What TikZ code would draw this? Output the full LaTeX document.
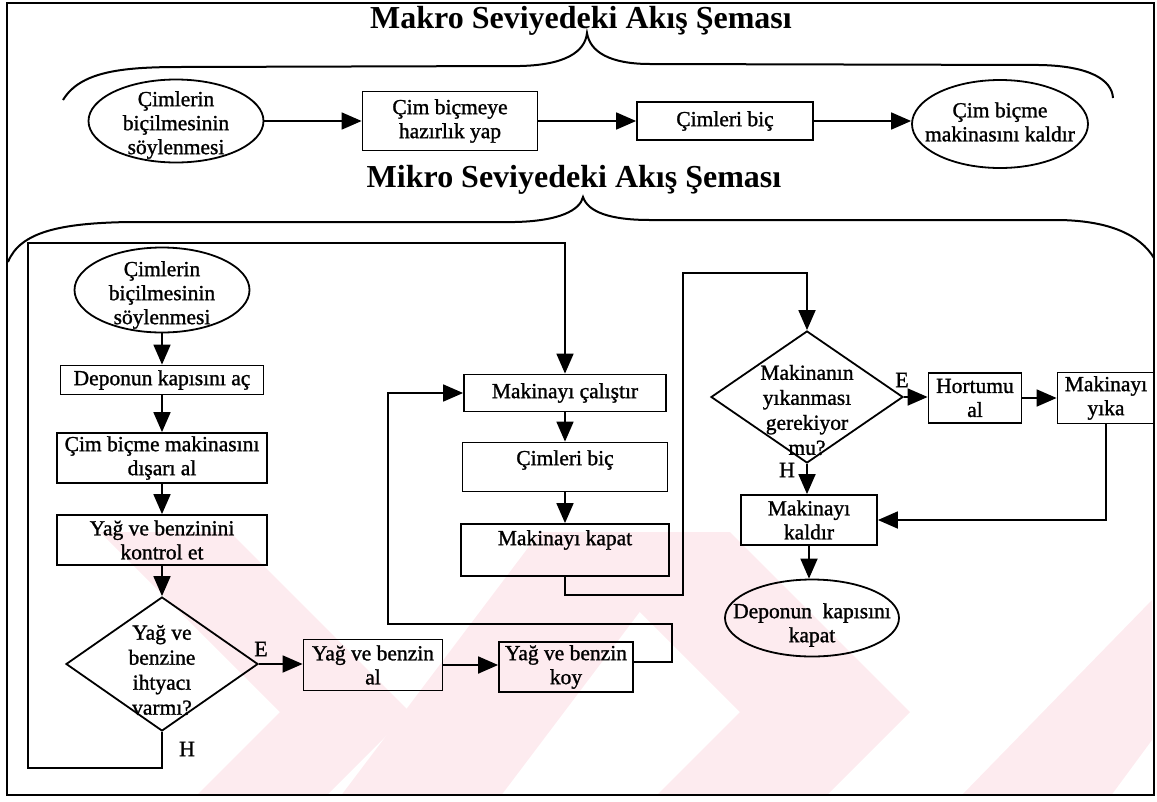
\documentclass[tikz,border=0pt]{standalone}
\usepackage{fontspec}
\setmainfont{Liberation Serif}
\newfontfamily\inkfont{Liberation Serif}[FakeBold=1.2]
\usetikzlibrary{shapes.geometric,arrows.meta,calc}
\definecolor{wmark}{RGB}{253,235,239}
\begin{document}
\begin{tikzpicture}[x=1pt,y=-1pt,
  every node/.style={font=\inkfont\fontsize{21.5}{24}\selectfont},
  box/.style={draw,rectangle,line width=1.8pt,inner sep=1pt,align=center},
  oval/.style={draw,ellipse,line width=1.8pt,inner sep=0pt},
  dia/.style={draw,diamond,line width=1.8pt,inner sep=0pt},
  conn/.style={line width=1.8pt},
  arr/.style={conn,-{Triangle[length=20pt,width=17pt]}},
  title/.style={font=\fontsize{32}{34}\selectfont\bfseries,anchor=base},
  yn/.style={font=\inkfont\fontsize{22}{24}\selectfont},
  brace/.style={line width=2pt}
]
\useasboundingbox (0,0) rectangle (1157,801);

% faint background emblem
\begin{scope}
  \clip (9,532) rectangle (1152,793);
  \fill[wmark] (100,532) -- (230,532) -- (410,712) -- (325,797) -- (195,797) -- (280,712) -- cycle;
  \fill[wmark] (340,797) -- (500,797) -- (700,532) -- (540,532) -- cycle;
  \fill[wmark] (560,532) -- (730,532) -- (910,712) -- (825,797) -- (655,797) -- (740,712) -- cycle;
  \fill[wmark] (960,797) -- (1110,797) -- (1152,740) -- (1152,600) -- cycle;
\end{scope}

% outer frame
\draw[line width=2pt] (7,3) rectangle (1154,795);

% titles
\node[title] (tmakro) at (581,28) {Makro Seviyedeki Akış Şeması};
\node[title] (tmikro) at (574,187) {Mikro Seviyedeki Akış Şeması};

% braces under the titles
\draw[brace] (63,100) .. controls (80,72) and (120,67) .. (180,67) -- (520,66)
  .. controls (565,65) and (585,52) .. (587,33)
  .. controls (590,52) and (610,64) .. (650,64) -- (1040,65)
  .. controls (1090,66) and (1112,80) .. (1113,98);
\draw[brace] (8,262) .. controls (20,232) and (60,223) .. (130,222) -- (515,222)
  .. controls (560,221) and (580,210) .. (583,197)
  .. controls (588,212) and (610,220) .. (650,220) -- (1060,220)
  .. controls (1110,221) and (1140,235) .. (1154,258);

% macro level
\node[oval,minimum width=175,minimum height=83,
  label={[align=center,yshift=-4pt]center:Çimlerin\\biçilmesinin\\söylenmesi}] (me1) at (176,121) {};
\node[box,minimum width=175,minimum height=59] (mr1) at (450,121) {Çim biçmeye\\hazırlık yap};
\node[box,minimum width=176,minimum height=38] (mr2) at (725,121) {Çimleri biç};
\node[oval,minimum width=176,minimum height=88,
  label={[align=center,yshift=2pt]center:Çim biçme\\makinasını kaldır}] (me2) at (1000,124) {};
\draw[arr] (me1.east) -- (mr1.west);
\draw[arr] (mr1.east) -- (mr2.west);
\draw[arr] (mr2.east) -- (mr2.east -| me2.west);

% micro level, left column
\node[oval,minimum width=175,minimum height=85,
  label={[align=center,yshift=-5pt]center:Çimlerin\\biçilmesinin\\söylenmesi}] (ce) at (162,290) {};
\node[box,minimum width=203,minimum height=29] (d1) at (162,380) {Deponun kapısını aç};
\node[box,minimum width=210,minimum height=50] (d2) at (162,458) {Çim biçme makinasını\\dışarı al};
\node[box,minimum width=210,minimum height=50] (d3) at (162,540) {Yağ ve benzinini\\kontrol et};
\node[dia,minimum width=192,minimum height=134,
  label={[align=center,yshift=-6pt,font=\inkfont\fontsize{21.5}{25}\selectfont]center:Yağ ve\\benzine\\ihtyacı\\varmı?}] (q1) at (162,664) {};
\node[box,minimum width=139,minimum height=51] (b1) at (373,665) {Yağ ve benzin\\al};
\node[box,minimum width=134,minimum height=50] (b2) at (566,667) {Yağ ve benzin\\koy};

\draw[arr] (ce.south) -- (d1.north);
\draw[arr] (d1.south) -- (d2.north);
\draw[arr] (d2.south) -- (d3.north);
\draw[arr] (d3.south) -- (q1.north);
\draw[arr] (q1.east) -- (q1.east -| b1.west);
\draw[arr] (b1.east) -- (b1.east -| b2.west);
\node[yn] (e1) at (261,649) {E};
\node[yn] (h1) at (187,749) {H};

% micro level, middle column
\node[box,minimum width=202,minimum height=37] (m1) at (565,393) {Makinayı çalıştır};
\node[box,minimum width=205,minimum height=49,
  label={[yshift=7pt]center:Çimleri biç}] (m2) at (565,467) {};
\node[box,minimum width=208,minimum height=52,
  label={[yshift=10pt]center:Makinayı kapat}] (m3) at (565,550) {};
\draw[arr] (m1.south) -- (m2.north);
\draw[arr] (m2.south) -- (m3.north);

% loops back to the start of the machine
\draw[arr] (q1.south) -- (162,768) -| (28,243) -| (m1.north);
\draw[arr] ($(b2.east)+(0,-5)$) -| (672,624) -| (388,393) -- (m1.west);

% micro level, right column
\node[dia,minimum width=192,minimum height=132,
  label={[align=center,yshift=-13pt,font=\inkfont\fontsize{21.5}{25}\selectfont]center:Makinanın\\yıkanması\\gerekiyor\\mu?}] (q2) at (807,397) {};
\node[box,minimum width=93,minimum height=50] (hh) at (975,398) {Hortumu\\al};
\node[box,minimum width=97,minimum height=51] (hy) at (1106,398) {Makinayı\\yıka};
\node[box,minimum width=136,minimum height=50] (kk) at (809,520) {Makinayı\\kaldır};
\node[oval,minimum width=174,minimum height=77,
  label={[align=center,yshift=-7pt]center:Deponun\ \ kapısını\\kapat}] (de) at (812,618) {};

\draw[arr] (m3.south) -- (565,595) -| (683,273) -| (q2.north);
\draw[arr] (q2.east) -- (q2.east -| hh.west);
\draw[arr] (hh.east) -- (hh.east -| hy.west);
\draw[arr] (hy.south) |- (kk.east);
\draw[arr] (q2.south) -- (q2.south |- kk.north);
\draw[arr] (kk.south) -- (kk.south |- de.north);
\node[yn] (e2) at (902,380) {E};
\node[yn] (h2) at (787,470) {H};
\end{tikzpicture}
\end{document}
